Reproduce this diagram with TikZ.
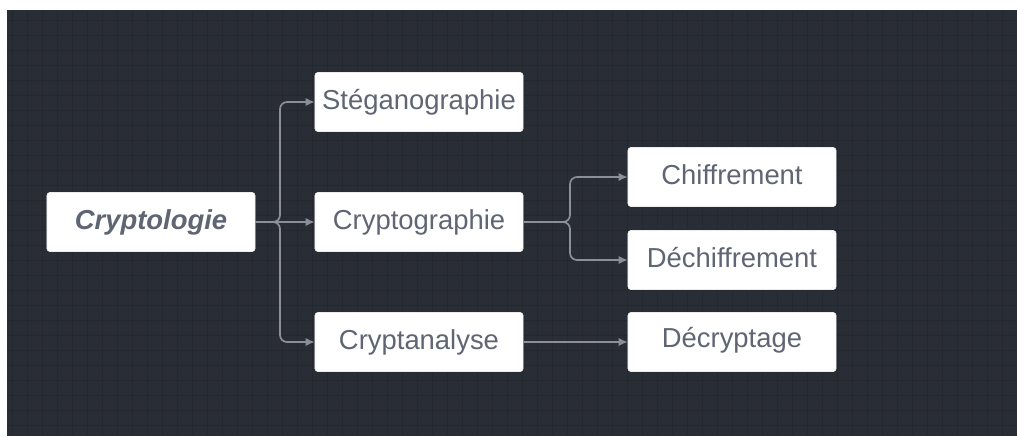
\documentclass[tikz,border=0pt]{standalone}
\usepackage{fontspec}
\setmainfont{Liberation Sans}
\usetikzlibrary{arrows.meta}

\definecolor{canvas}{HTML}{292D36}
\definecolor{gridcol}{HTML}{25282F}
\definecolor{labelcol}{HTML}{5F6573}
\definecolor{linkcol}{HTML}{8A8F99}

\tikzset{
  box/.style={draw=white!85!gray, fill=white, rounded corners=2pt,
    minimum width=5.2cm, minimum height=1.475cm, inner sep=0pt,
    text=labelcol, font=\fontsize{19.5}{23}\selectfont},
  link/.style={draw=linkcol, line width=1.2pt, rounded corners=5pt,
    -{Latex[length=6.5pt,width=6pt]}},
}

\begin{document}
\begin{tikzpicture}[x=0.025cm,y=-0.025cm]

\useasboundingbox (0,0) rectangle (1017,436);

% background with grid
\fill[canvas] (7,10) rectangle (1017,436);
\begin{scope}
\clip (7,10) rectangle (1017,436);
\foreach \gx in {12,27,...,1017}
    \draw[gridcol, line width=0.6pt] (\gx,10) -- (\gx,436);
\foreach \gy in {20,35,...,436}
    \draw[gridcol, line width=0.6pt] (7,\gy) -- (1017,\gy);
\end{scope}

% boxes
\node[box, font=\fontsize{19.5}{23}\selectfont\bfseries\itshape] (cryptologie) at (151,222) {Cryptologie};
\node[box] (stegano) at (419,102) {Stéganographie};
\node[box] (cryptographie) at (419,222) {Cryptographie};
\node[box] (cryptanalyse) at (419,342) {Cryptanalyse};
\node[box, text depth=4pt] (chiffrement) at (732,177) {Chiffrement};
\node[box, text depth=4pt] (dechiffrement) at (732,260) {Déchiffrement};
\node[box, text depth=6pt] (decryptage) at (732,342) {Décryptage};

% connectors
\coordinate (split1) at (280,222);
\coordinate (split2) at (570,222);
\draw[link] (cryptologie.east) -- (split1) |- (stegano.west);
\draw[link] (cryptologie.east) -- (cryptographie.west);
\draw[link] (cryptologie.east) -- (split1) |- (cryptanalyse.west);
\draw[link] (cryptographie.east) -- (split2) |- (chiffrement.west);
\draw[link] (cryptographie.east) -- (split2) |- (dechiffrement.west);
\draw[link] (cryptanalyse.east) -- (decryptage.west);

\end{tikzpicture}
\end{document}
